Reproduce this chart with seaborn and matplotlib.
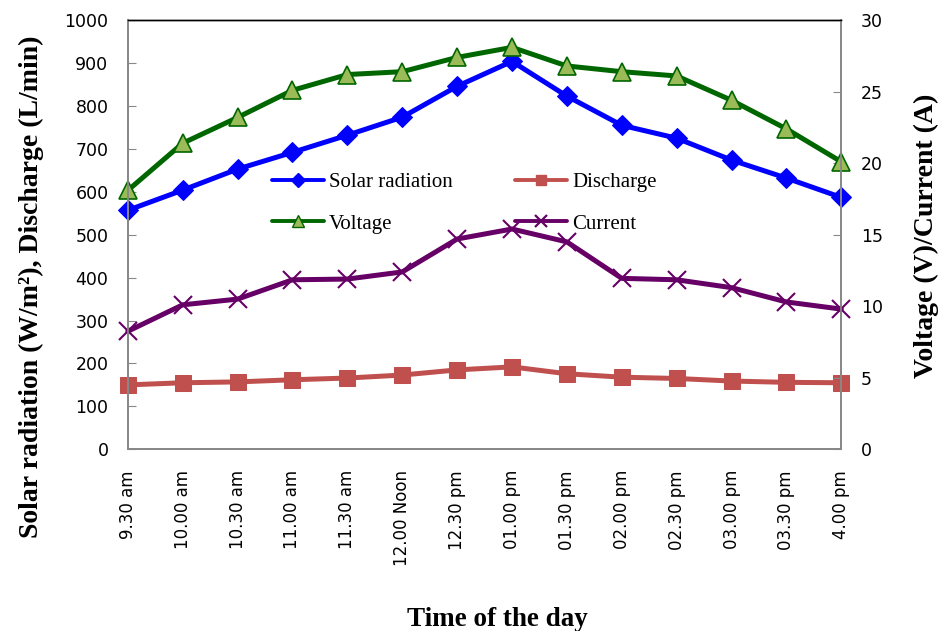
import numpy as np
import pandas as pd
import matplotlib
matplotlib.use("Agg")
import matplotlib.pyplot as plt
from matplotlib.lines import Line2D
from matplotlib.ticker import MultipleLocator
import seaborn as sns

# data
times = ["9.30 am", "10.00 am", "10.30 am", "11.00 am", "11.30 am", "12.00 Noon",
         "12.30 pm", "01.00 pm", "01.30 pm", "02.00 pm", "02.30 pm", "03.00 pm",
         "03.30 pm", "4.00 pm"]
solar = [557, 604, 653, 692, 732, 774, 846, 904, 823, 755, 725, 674, 632, 587]
discharge = [150, 155, 157, 162, 166, 173, 185, 192, 176, 168, 165, 159, 156, 155]
voltage = [18.1, 21.4, 23.2, 25.1, 26.2, 26.4, 27.4, 28.1, 26.8, 26.4, 26.1, 24.4, 22.4, 20.1]
current = [8.25, 10.1, 10.5, 11.85, 11.9, 12.4, 14.7, 15.4, 14.5, 11.95, 11.85, 11.3, 10.3, 9.8]

df = pd.DataFrame({"time": times, "Solar radiation": solar, "Discharge": discharge,
                   "Voltage": voltage, "Current": current})

sns.set_style("white")
plt.rcParams["font.family"] = ["DejaVu Sans"]
plt.rcParams["text.color"] = "black"
plt.rcParams["axes.labelcolor"] = "black"
serif = "Liberation Serif"

fig = plt.figure(figsize=(9.4, 6.31), dpi=100)
ax = fig.add_axes([0.136, 0.288, 0.759, 0.680])
ax2 = ax.twinx()

lw = 3.6
sns.lineplot(data=df, x="time", y="Solar radiation", ax=ax, color="#0000FF", lw=lw,
             marker="D", markersize=10, markeredgecolor="#0000FF", sort=False, clip_on=False)
sns.lineplot(data=df, x="time", y="Discharge", ax=ax, color="#C0504D", lw=lw,
             marker="s", markersize=11, markeredgecolor="#C0504D", sort=False, clip_on=False)
sns.lineplot(data=df, x="time", y="Voltage", ax=ax2, color="#006600", lw=lw,
             marker="^", markersize=13, markerfacecolor="#9BBB59",
             markeredgecolor="#006600", markeredgewidth=1.2, sort=False, clip_on=False)
sns.lineplot(data=df, x="time", y="Current", ax=ax2, color="#660066", lw=lw,
             marker="x", markersize=13, markeredgewidth=1.5, markeredgecolor="#660066",
             sort=False, clip_on=False)

ax.set_ylim(0, 1000)
ax2.set_ylim(0, 30)
ax.set_xlim(0, len(times) - 1)
ax.yaxis.set_major_locator(MultipleLocator(100))
ax2.yaxis.set_major_locator(MultipleLocator(5))
ax.xaxis.set_minor_locator(MultipleLocator(0.5))

gray = "#888888"
for a in (ax, ax2):
    for s in ("left", "right", "bottom"):
        a.spines[s].set_color(gray)
        a.spines[s].set_linewidth(1.3)
    a.spines["top"].set_color("black")
    a.spines["top"].set_linewidth(1.0)

ax.tick_params(axis="y", direction="in", length=6, color=gray, labelcolor="black",
               labelsize=12.5, pad=14)
ax2.tick_params(axis="y", direction="in", length=6, color=gray, labelcolor="black",
                labelsize=12.5, pad=14)
ax.tick_params(axis="x", which="both", direction="out", length=5, color=gray,
               labelcolor="black", labelsize=12, labelrotation=90, pad=10)
for lab in ax.get_xticklabels():
    lab.set_verticalalignment("top")

ax.set_xlabel("Time of the day", family=serif, fontweight="bold", fontsize=19.5)
ax.xaxis.set_label_coords(0.5175, -0.368)
ax.set_ylabel("Solar radiation (W/m²), Discharge (L/min)", family=serif,
              fontweight="bold", fontsize=20)
ax.yaxis.set_label_coords(-0.118, 0.378)
ax2.set_ylabel("Voltage (V)/Current (A)", family=serif, fontweight="bold", fontsize=20)
ax2.yaxis.set_label_coords(1.101, 0.497)

handles = [
    Line2D([], [], color="#0000FF", lw=2.8, marker="D", markersize=7),
    Line2D([], [], color="#006600", lw=2.8, marker="^", markersize=9,
           markerfacecolor="#9BBB59", markeredgecolor="#006600"),
    Line2D([], [], color="#C0504D", lw=2.8, marker="s", markersize=7),
    Line2D([], [], color="#660066", lw=2.8, marker="x", markersize=9, markeredgewidth=1.6),
]
labels = ["Solar radiation", "Voltage", "Discharge", "Current"]
ax2.legend(handles, labels, ncol=2, frameon=False, loc="upper left",
           bbox_to_anchor=(0.19, 0.664), prop={"family": serif, "size": 15},
           handlelength=2.5, columnspacing=3.0, labelspacing=1.05, handletextpad=0.25,
           borderaxespad=0)

fig.savefig("out.png", dpi=100)
